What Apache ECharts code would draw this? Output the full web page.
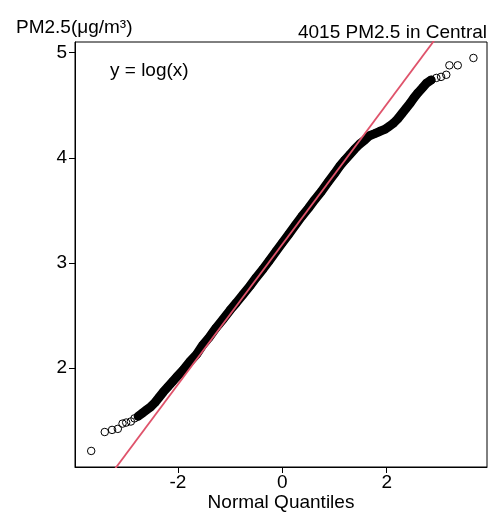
<!DOCTYPE html>
<html>
<head>
<meta charset="utf-8">
<script src="https://cdn.jsdelivr.net/npm/echarts@6/dist/echarts.min.js"></script>
<style>
html,body{margin:0;padding:0;background:#fff;}
#chart{width:494px;height:518px;}
</style>
</head>
<body>
<div id="chart"></div>
<script>
// Normal quantiles (x) and log(PM2.5) values (y)
const normalQuantiles = [
  -3.66, -3.40, -3.26, -3.15, -3.06, -2.99, -2.90, -2.83, -2.76, -2.68,
  -2.60, -2.52, -2.44, -2.36, -2.28, -2.19, -2.10, -2.03, -1.90, -1.77,
  -1.64, -1.52, -1.40, -1.27, -1.14, -1.00, -0.88, -0.75, -0.62, -0.50,
  -0.37, -0.25, -0.12, 0.00, 0.12, 0.25, 0.37, 0.50, 0.62, 0.75,
  0.88, 1.00, 1.10, 1.20, 1.29, 1.38, 1.48, 1.58, 1.67, 1.77,
  1.86, 1.96, 2.05, 2.13, 2.21, 2.29, 2.37, 2.45, 2.52, 2.60,
  2.69, 2.76, 2.85, 2.95, 3.04, 3.14, 3.20, 3.36, 3.66
];
const logPM25 = [
  1.21, 1.39, 1.41, 1.42, 1.47, 1.48, 1.49, 1.52, 1.54, 1.57,
  1.60, 1.63, 1.67, 1.72, 1.77, 1.82, 1.87, 1.91, 1.98, 2.06,
  2.13, 2.22, 2.29, 2.38, 2.46, 2.55, 2.62, 2.70, 2.78, 2.86,
  2.94, 3.02, 3.11, 3.19, 3.27, 3.36, 3.44, 3.52, 3.60, 3.68,
  3.77, 3.85, 3.92, 3.98, 4.03, 4.08, 4.13, 4.17, 4.21, 4.23,
  4.25, 4.27, 4.30, 4.33, 4.37, 4.42, 4.47, 4.52, 4.57, 4.62,
  4.67, 4.71, 4.74, 4.76, 4.77, 4.79, 4.88, 4.88, 4.95
];
// quantile range where the points overlap into a solid band
const denseFrom = -2.80;
const denseTo = 2.86;
// reference line (qqline)
const refSlope = 0.667;
const refIntercept = 3.176;

const xTicks = [-2, 0, 2];
const yTicks = [2, 3, 4, 5];
const xRange = [-3.97, 3.92];
const yRange = [1.057, 5.102];

const titleText = '4015 PM2.5 in Central';
const yName = 'PM2.5(\u03BCg/m\u00B3)';
const xName = 'Normal Quantiles';
const noteText = 'y = log(x)';

const pts = normalQuantiles.map((q, i) => [q, logPM25[i]]);
const densePts = pts.filter(p => p[0] >= denseFrom && p[0] <= denseTo);
const refLine = [
  [xRange[0], refIntercept + refSlope * xRange[0]],
  [xRange[1], refIntercept + refSlope * xRange[1]]
];

const FONT = '"Liberation Sans", Arial, sans-serif';
const FS = 19;
const txt = {fontFamily: FONT, fontSize: FS, fontWeight: 'normal', color: '#000'};
const chart = echarts.init(document.getElementById('chart'), null, {renderer: 'canvas'});
chart.setOption({
  animation: false,
  backgroundColor: '#fff',
  title: [
    {text: titleText, right: 7, top: 23, padding: 0, textStyle: txt},
    {text: yName, left: 16, top: 18, padding: 0, textStyle: txt},
    {text: noteText, left: 110, top: 61, padding: 0, textStyle: txt}
  ],
  grid: {left: 75, right: 7, top: 42, bottom: 51, containLabel: false, outerBoundsMode: 'none',
         show: true, borderColor: '#000', borderWidth: 1, backgroundColor: 'transparent'},
  xAxis: {
    type: 'value', min: xRange[0], max: xRange[1],
    name: xName, nameLocation: 'middle', nameGap: 26, nameMoveOverlap: false,
    nameTextStyle: {fontFamily: FONT, fontSize: FS, color: '#000', verticalAlign: 'top'},
    axisLine: {show: true, onZero: false, lineStyle: {color: '#000', width: 1}},
    axisTick: {show: true, inside: false, length: 6, customValues: xTicks, lineStyle: {color: '#000'}},
    axisLabel: {fontFamily: FONT, fontSize: FS, color: '#000', margin: 6, customValues: xTicks, showMinLabel: true, showMaxLabel: true},
    splitLine: {show: false}
  },
  yAxis: {
    type: 'value', min: yRange[0], max: yRange[1],
    axisLine: {show: true, onZero: false, lineStyle: {color: '#000', width: 1}},
    axisTick: {show: true, inside: false, length: 6, customValues: yTicks, lineStyle: {color: '#000'}},
    axisLabel: {fontFamily: FONT, fontSize: FS, color: '#000', margin: 8, customValues: yTicks},
    splitLine: {show: false}
  },
  series: [
    {
      type: 'line', data: densePts, showSymbol: false, symbol: 'none', smooth: false,
      lineStyle: {color: '#000', width: 9, cap: 'round', join: 'round'},
      silent: true, z: 2
    },
    {
      type: 'scatter', data: pts, symbol: 'circle', symbolSize: 7.5,
      itemStyle: {color: 'rgba(0,0,0,0)', borderColor: '#000', borderWidth: 1, opacity: 1},
      silent: true, z: 3
    },
    {
      type: 'line', data: refLine, showSymbol: false, symbol: 'none',
      lineStyle: {color: '#DF536B', width: 1.8}, clip: true, silent: true, z: 4
    }
  ]
});
</script>
</body>
</html>
